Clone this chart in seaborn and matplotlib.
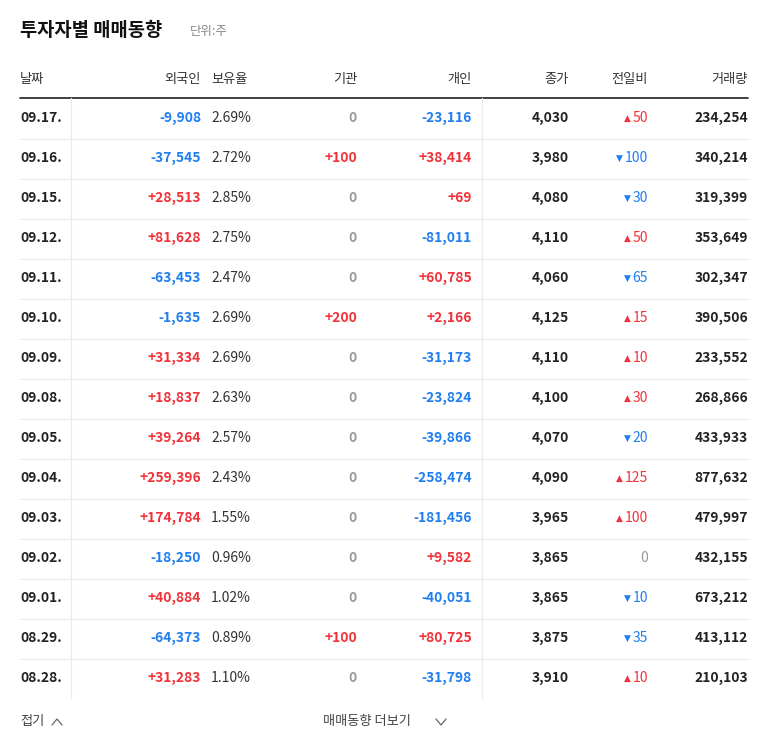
import matplotlib
matplotlib.use("Agg")
import matplotlib.pyplot as plt
import seaborn as sns

sns.set_theme(style="white")
plt.rcParams["font.family"] = ["Noto Sans CJK KR", "Noto Sans CJK JP", "Noto Sans CJK SC", "DejaVu Sans"]

dates = ["09.17.","09.16.","09.15.","09.12.","09.11.","09.10.","09.09.","09.08.","09.05.","09.04.","09.03.","09.02.","09.01.","08.29.","08.28."]
foreign = [-9908,-37545,28513,81628,-63453,-1635,31334,18837,39264,259396,174784,-18250,40884,-64373,31283]
holding = ["2.69%","2.72%","2.85%","2.75%","2.47%","2.69%","2.69%","2.63%","2.57%","2.43%","1.55%","0.96%","1.02%","0.89%","1.10%"]
institution = [0,100,0,0,0,200,0,0,0,0,0,0,0,100,0]
individual = [-23116,38414,69,-81011,60785,2166,-31173,-23824,-39866,-258474,-181456,9582,-40051,80725,-31798]
close = [4030,3980,4080,4110,4060,4125,4110,4100,4070,4090,3965,3865,3865,3875,3910]
change = [50,-100,-30,50,-65,15,10,30,-20,125,100,0,-10,-35,10]
volume = [234254,340214,319399,353649,302347,390506,233552,268866,433933,877632,479997,432155,673212,413112,210103]
headers = ["날짜","외국인","보유율","기관","개인","종가","전일비","거래량"]

RED, BLUE, GRAY, DARK = "#f0333a", "#1f7ef0", "#999999", "#222222"

fig = plt.figure(figsize=(7.68, 7.49), dpi=100)
ax = fig.add_axes([0, 0, 1, 1])
ax.set_xlim(0, 768); ax.set_ylim(749, 0); ax.axis("off")
renderer = fig.canvas.get_renderer()

ax.text(20, 31, "투자자별 매매동향", fontsize=13.5, fontweight="bold", color="#111", va="center")
ax.text(190, 32, "단위:주", fontsize=9, color="#888", va="center")

hx = [(20, "left"), (201, "right"), (211, "left"), (357, "right"), (472, "right"),
      (569, "right"), (648, "right"), (748, "right")]
for (x, ha), h in zip(hx, headers):
    ax.text(x, 80, h, fontsize=9.5, color="#333", ha=ha, va="center")
ax.plot([20, 748], [97.5, 97.5], color="#333", lw=1.3)

def signed(v):
    if v == 0:
        return "0", GRAY
    return (f"+{v:,}", RED) if v > 0 else (f"{v:,}", BLUE)

fs = 10
for i in range(len(dates)):
    y = 118 + 40 * i
    ax.text(20, y, dates[i], fontsize=fs, fontweight="bold", color=DARK, va="center")
    for x, v in [(201, foreign[i]), (357, institution[i]), (472, individual[i])]:
        s, c = signed(v)
        ax.text(x, y, s, fontsize=fs, fontweight="bold", color=c, ha="right", va="center")
    ax.text(211, y, holding[i], fontsize=fs, color="#333", va="center")
    ax.text(569, y, f"{close[i]:,}", fontsize=fs, fontweight="bold", color=DARK, ha="right", va="center")
    ch = change[i]
    if ch == 0:
        ax.text(648, y, "0", fontsize=fs, color=GRAY, ha="right", va="center")
    else:
        c = RED if ch > 0 else BLUE
        t = ax.text(648, y, f"{abs(ch)}", fontsize=fs, color=c, ha="right", va="center")
        w = t.get_window_extent(renderer).width
        ax.text(648 - w - 2, y + 0.5, "▲" if ch > 0 else "▼", fontsize=6.5, color=c,
                ha="right", va="center", family="DejaVu Sans")
    ax.text(748, y, f"{volume[i]:,}", fontsize=fs, fontweight="bold", color=DARK, ha="right", va="center")
    if i < len(dates) - 1:
        ax.plot([20, 748], [y + 20.5, y + 20.5], color="#ebebeb", lw=0.9)
for x in (71, 482):
    ax.plot([x, x], [98, 698], color="#ebebeb", lw=0.9)

ax.text(20, 722, "접기", fontsize=9.5, color="#444", va="center")
ax.plot([52, 57, 62], [725, 719, 725], color="#666", lw=0.9)
ax.text(323, 722, "매매동향 더보기", fontsize=9.5, color="#444", va="center")
ax.plot([436, 441, 446], [719, 725, 719], color="#666", lw=0.9)

fig.savefig("out.png", dpi=100, facecolor="white")
